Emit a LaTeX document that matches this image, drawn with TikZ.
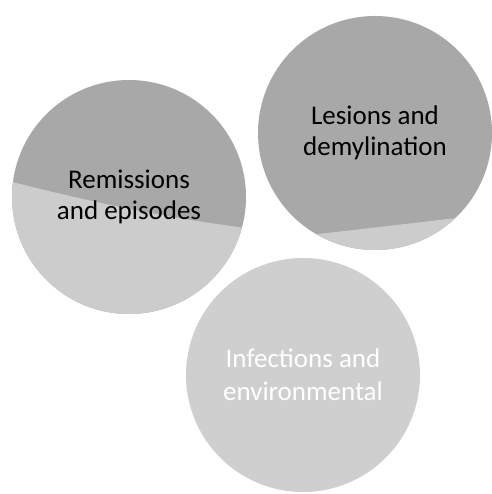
\documentclass[tikz,border=0pt]{standalone}
\usepackage{fontspec}
\setmainfont{Carlito}
\usepackage{tikz}
\usetikzlibrary{calc}
\usepackage{xcolor}
\definecolor{dkgrey}{RGB}{168,168,168}
\definecolor{ltgrey}{RGB}{204,204,204}
\definecolor{pale}{RGB}{207,207,207}

\begin{document}
\begin{tikzpicture}[x=1pt,y=1pt,
  disc/.style={circle,minimum size=234pt,inner sep=0pt,align=center,fill=dkgrey,
    font=\fontsize{27}{31}\selectfont},
  pdisc/.style={disc,fill=pale,text=white,font=\fontsize{27}{33}\selectfont}]
\path[fill=white,use as bounding box] (0,0) rectangle (491,494);
\node[disc,path picture={\fill[ltgrey]
    ($(path picture bounding box.center)+(-140pt,21pt)$)
    .. controls ($(path picture bounding box.center)+(-40pt,-5pt)$)
    and ($(path picture bounding box.center)+(40pt,-22pt)$)
    .. ($(path picture bounding box.center)+(140pt,-34pt)$)
    -- ($(path picture bounding box.center)+(140pt,-140pt)$)
    -- ($(path picture bounding box.center)+(-140pt,-140pt)$) -- cycle;}]
  (remis) at (129,297) {Remissions\\and episodes};
\node[disc,path picture={\fill[ltgrey]
    ($(path picture bounding box.center)+(-125pt,-109pt)$)
    -- ($(path picture bounding box.center)+(125pt,-80pt)$)
    -- ($(path picture bounding box.center)+(125pt,-140pt)$)
    -- ($(path picture bounding box.center)+(-125pt,-140pt)$) -- cycle;}]
  (lesion) at (375,361) {Lesions and\\demylination};
\node[pdisc] (infect) at (303,119) {Infections and\\environmental};
\end{tikzpicture}
\end{document}
